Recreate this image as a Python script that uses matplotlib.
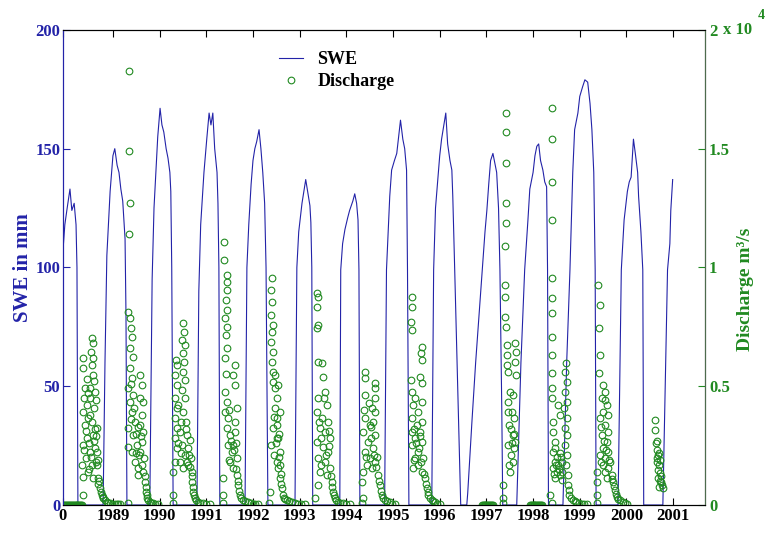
import matplotlib
matplotlib.use('Agg')
import numpy as np
import matplotlib.pyplot as plt

plt.rcParams['font.family'] = ['Liberation Serif', 'DejaVu Serif']
plt.rcParams['font.weight'] = 'bold'

# SWE (mm), one list per snow season (decimal year, mm)
swe_1988 = [(1987.93, 107), (1987.97, 118), (1988.02, 125), (1988.08, 133), (1988.12, 124),
            (1988.17, 127), (1988.21, 118), (1988.23, 100), (1988.25, 0)]
swe_1989 = [(1988.79, 0), (1988.83, 60), (1988.87, 105), (1988.94, 132), (1989.00, 147),
            (1989.04, 150), (1989.09, 143), (1989.13, 140), (1989.17, 133), (1989.21, 128),
            (1989.26, 112), (1989.28, 80), (1989.30, 0)]
swe_1990 = [(1989.79, 0), (1989.84, 95), (1989.88, 125), (1989.92, 140), (1989.96, 155),
            (1990.01, 167), (1990.05, 160), (1990.09, 157), (1990.14, 150), (1990.18, 146),
            (1990.22, 140), (1990.24, 132), (1990.26, 100), (1990.29, 0)]
swe_1991 = [(1990.80, 0), (1990.84, 90), (1990.88, 118), (1990.95, 140), (1991.01, 154),
            (1991.06, 165), (1991.10, 160), (1991.14, 165), (1991.18, 150), (1991.23, 140),
            (1991.25, 127), (1991.27, 100), (1991.29, 0)]
swe_1992 = [(1991.83, 0), (1991.87, 100), (1991.91, 118), (1991.96, 135), (1992.00, 145),
            (1992.04, 150), (1992.08, 153), (1992.13, 158), (1992.17, 150), (1992.21, 140),
            (1992.25, 127), (1992.28, 100), (1992.32, 0)]
swe_1993 = [(1992.90, 0), (1992.94, 100), (1992.98, 115), (1993.05, 127), (1993.09, 132),
            (1993.13, 137), (1993.18, 131), (1993.22, 126), (1993.24, 119), (1993.26, 100),
            (1993.28, 0)]
swe_1994 = [(1993.86, 0), (1993.88, 99), (1993.92, 110), (1993.97, 116), (1994.03, 121),
            (1994.07, 124), (1994.14, 128), (1994.18, 131), (1994.22, 127), (1994.25, 120),
            (1994.27, 99), (1994.29, 0)]
swe_1995 = [(1994.82, 0), (1994.86, 99), (1994.93, 130), (1994.97, 141), (1995.03, 145),
            (1995.08, 148), (1995.12, 155), (1995.16, 162), (1995.21, 154), (1995.25, 150),
            (1995.29, 141), (1995.31, 99), (1995.34, 0)]
swe_1996 = [(1995.83, 0), (1995.87, 99), (1995.91, 125), (1995.96, 137), (1996.00, 147),
            (1996.04, 154), (1996.09, 160), (1996.13, 165), (1996.17, 152), (1996.22, 145),
            (1996.26, 141), (1996.28, 130), (1996.32, 100), (1996.45, 0)]
swe_1997 = [(1996.58, 0), (1996.60, 5), (1996.69, 35), (1996.77, 60), (1996.86, 85),
            (1996.92, 102), (1996.97, 115), (1997.01, 124), (1997.05, 135), (1997.09, 145),
            (1997.14, 148), (1997.18, 144), (1997.22, 140), (1997.26, 125), (1997.29, 99),
            (1997.33, 40), (1997.35, 0)]
swe_1998 = [(1997.65, 0), (1997.74, 60), (1997.82, 99), (1997.89, 120), (1997.93, 133),
            (1998.00, 140), (1998.04, 147), (1998.08, 151), (1998.12, 152), (1998.16, 145),
            (1998.21, 141), (1998.25, 136), (1998.29, 134), (1998.31, 99), (1998.33, 0)]
swe_1999 = [(1998.64, 0), (1998.72, 60), (1998.79, 99), (1998.85, 140), (1998.89, 158),
            (1998.96, 165), (1999.00, 172), (1999.06, 176), (1999.11, 179), (1999.17, 178),
            (1999.22, 169), (1999.26, 158), (1999.30, 140), (1999.33, 99), (1999.35, 0)]
swe_2000 = [(1999.82, 0), (1999.89, 99), (1999.95, 120), (2000.02, 132), (2000.06, 136),
            (2000.10, 138), (2000.13, 148), (2000.15, 154), (2000.19, 148), (2000.24, 140),
            (2000.26, 130), (2000.31, 115), (2000.35, 99), (2000.37, 0)]
swe_2001 = [(2000.78, 0), (2000.84, 60), (2000.88, 99), (2000.93, 110), (2000.95, 124),
            (2000.99, 137)]

# Discharge (m3/s), one list per melt season (decimal year, m3/s)
q_1988 = [(1987.94, 0), (1987.96, 0), (1987.98, 0), (1988.00, 0), (1988.02, 0), (1988.04, 0),
          (1988.06, 0), (1988.08, 0), (1988.10, 0), (1988.12, 0), (1988.14, 0), (1988.16, 0),
          (1988.18, 0), (1988.20, 0), (1988.22, 0), (1988.24, 0), (1988.26, 0), (1988.28, 0),
          (1988.30, 0), (1988.32, 0), (1988.34, 0),
          (1988.36, 420), (1988.36, 1180), (1988.36, 6190), (1988.36, 5770),
          (1988.40, 4930), (1988.44, 4210), (1988.36, 3920), (1988.51, 4500), (1988.46, 3660),
          (1988.40, 3370), (1988.55, 3490), (1988.44, 2820), (1988.57, 2950), (1988.36, 2530),
          (1988.51, 2230), (1988.61, 2400), (1988.42, 1980), (1988.55, 1680), (1988.64, 1810),
          (1988.46, 1390), (1988.34, 1680), (1988.57, 1140),
          (1988.55, 7030), (1988.57, 6820), (1988.53, 6440), (1988.57, 6190), (1988.55, 5890),
          (1988.57, 5470), (1988.51, 4930), (1988.61, 4760), (1988.59, 4080), (1988.66, 3240),
          (1988.38, 4500), (1988.42, 3100), (1988.48, 2600), (1988.50, 3800), (1988.53, 2000),
          (1988.59, 2700), (1988.62, 3200), (1988.47, 4700), (1988.49, 1500), (1988.60, 5200),
          (1988.39, 2300), (1988.45, 5300), (1988.63, 4400), (1988.64, 2900),
          (1988.66, 2230), (1988.66, 1680), (1988.67, 1900), (1988.68, 1140), (1988.69, 900),
          (1988.70, 1000), (1988.72, 720), (1988.74, 560), (1988.76, 420), (1988.78, 350),
          (1988.79, 290), (1988.82, 200), (1988.87, 130), (1988.90, 100), (1988.94, 80),
          (1988.98, 60), (1989.04, 40), (1989.08, 30), (1989.11, 30), (1989.15, 40)]
q_1989 = [(1989.34, 18270), (1989.34, 14900), (1989.36, 12710), (1989.34, 11410),
          (1989.32, 8130), (1989.36, 7870), (1989.39, 7450), (1989.41, 7070), (1989.36, 6610),
          (1989.43, 6230), (1989.36, 5770), (1989.41, 5350), (1989.32, 4930), (1989.43, 4630),
          (1989.36, 4340), (1989.41, 3920), (1989.47, 3490), (1989.32, 3240), (1989.43, 2950),
          (1989.51, 2530), (1989.41, 2230), (1989.47, 1810), (1989.54, 1560), (1989.32, 2440),
          (1989.58, 5470), (1989.62, 5050), (1989.58, 4500), (1989.64, 4340), (1989.62, 3790),
          (1989.58, 3370), (1989.64, 3070), (1989.62, 2650), (1989.58, 2230), (1989.66, 1980),
          (1989.62, 1680), (1989.64, 1390), (1989.54, 1260),
          (1989.38, 3600), (1989.45, 4100), (1989.50, 3000), (1989.55, 2100), (1989.60, 2900),
          (1989.39, 5100), (1989.49, 2200), (1989.53, 3300),
          (1989.68, 1200), (1989.69, 970), (1989.70, 750), (1989.71, 550), (1989.72, 400),
          (1989.73, 290), (1989.76, 200), (1989.79, 130), (1989.82, 100), (1989.86, 80),
          (1989.90, 60), (1989.96, 40), (1989.32, 80)]
q_1990 = [(1990.35, 6100), (1990.37, 5890), (1990.32, 5470), (1990.37, 5050), (1990.32, 4500),
          (1990.37, 4080), (1990.32, 3660), (1990.37, 3240), (1990.32, 2820), (1990.37, 2400),
          (1990.32, 1810), (1990.28, 1390), (1990.28, 420), (1990.28, 80),
          (1990.50, 7660), (1990.52, 7280), (1990.48, 6950), (1990.54, 6740), (1990.50, 6400),
          (1990.52, 6020), (1990.50, 5600), (1990.54, 5260), (1990.48, 4840), (1990.54, 4500),
          (1990.50, 3920), (1990.56, 3490),
          (1990.43, 3070), (1990.58, 2950), (1990.65, 2740), (1990.48, 2530), (1990.61, 2400),
          (1990.54, 2100), (1990.67, 1980), (1990.43, 1810), (1990.61, 1680), (1990.50, 1560),
          (1990.69, 1390), (1990.40, 4200), (1990.45, 3500), (1990.46, 2200), (1990.57, 3200),
          (1990.63, 2100), (1990.40, 2600), (1990.59, 1800), (1990.66, 1600),
          (1990.69, 970), (1990.70, 1200), (1990.71, 550), (1990.72, 750), (1990.74, 420),
          (1990.76, 290), (1990.79, 200), (1990.82, 130), (1990.87, 100), (1990.93, 80),
          (1991.00, 60), (1991.08, 40)]
q_1991 = [(1991.44, 9680), (1991.44, 9390), (1991.44, 9050), (1991.42, 8630), (1991.44, 8210),
          (1991.40, 7870), (1991.44, 7490), (1991.42, 7160), (1991.44, 6610), (1991.40, 6190),
          (1991.61, 5890), (1991.57, 5470), (1991.61, 5050), (1991.38, 11070), (1991.38, 10310),
          (1991.40, 4760), (1991.44, 4340), (1991.40, 3920), (1991.46, 3660), (1991.44, 3240),
          (1991.51, 2950), (1991.46, 2530), (1991.55, 2230), (1991.51, 1810), (1991.57, 1560),
          (1991.61, 3490), (1991.66, 4080), (1991.61, 3070), (1991.57, 2530), (1991.66, 1980),
          (1991.36, 1140), (1991.36, 420), (1991.36, 80),
          (1991.48, 4000), (1991.53, 2700), (1991.59, 2300), (1991.49, 1900), (1991.63, 2600),
          (1991.64, 1500), (1991.42, 5500),
          (1991.66, 1260), (1991.67, 1000), (1991.68, 840), (1991.70, 600), (1991.72, 420),
          (1991.75, 300), (1991.78, 210), (1991.83, 150), (1991.89, 130), (1991.95, 80),
          (1992.00, 40), (1992.05, 40), (1992.11, 40)]
q_1992 = [(1992.40, 9560), (1992.38, 9050), (1992.40, 8550), (1992.38, 8000), (1992.42, 7580),
          (1992.40, 7280), (1992.38, 6860), (1992.42, 6440), (1992.40, 6020), (1992.42, 5600),
          (1992.42, 5180), (1992.47, 4930), (1992.51, 4500), (1992.47, 4080), (1992.51, 3660),
          (1992.42, 3240), (1992.51, 2820), (1992.38, 2530), (1992.36, 550), (1992.34, 80),
          (1992.47, 5470), (1992.53, 5050), (1992.57, 3920), (1992.51, 3370), (1992.53, 2820),
          (1992.57, 2230), (1992.51, 1810), (1992.53, 1560),
          (1992.45, 3700), (1992.49, 2600), (1992.55, 2000), (1992.44, 2100), (1992.55, 3000),
          (1992.58, 1700),
          (1992.57, 1140), (1992.59, 900), (1992.60, 1300), (1992.62, 720), (1992.64, 420),
          (1992.66, 300), (1992.69, 250), (1992.73, 210), (1992.78, 150), (1992.83, 130),
          (1992.90, 80), (1992.96, 40), (1993.03, 40), (1993.11, 40)]
q_1993 = [(1993.37, 8930), (1993.39, 8760), (1993.37, 8340), (1993.39, 7580), (1993.37, 7450),
          (1993.39, 6020), (1993.48, 5980), (1993.50, 5390), (1993.54, 4760), (1993.52, 4500),
          (1993.39, 4500), (1993.58, 4210), (1993.37, 3920), (1993.48, 3660), (1993.60, 3490),
          (1993.43, 3240), (1993.54, 3070), (1993.65, 2820), (1993.37, 2650), (1993.50, 2440),
          (1993.60, 2230), (1993.39, 1980), (1993.54, 1810), (1993.65, 1560), (1993.43, 1390),
          (1993.58, 1260), (1993.39, 840), (1993.33, 290),
          (1993.45, 2800), (1993.56, 2100), (1993.62, 2500), (1993.41, 3500), (1993.46, 1700),
          (1993.63, 3100),
          (1993.67, 1200), (1993.69, 970), (1993.70, 750), (1993.71, 550), (1993.73, 400),
          (1993.75, 290), (1993.78, 200), (1993.82, 130), (1993.87, 100), (1993.92, 80),
          (1994.00, 60), (1994.07, 40)]
q_1994 = [(1994.40, 5600), (1994.40, 5350), (1994.61, 5140), (1994.61, 4930), (1994.40, 4630),
          (1994.61, 4500), (1994.55, 4080), (1994.40, 3660), (1994.61, 3920), (1994.57, 3490),
          (1994.50, 3370), (1994.35, 3070), (1994.61, 2950), (1994.46, 2650), (1994.57, 2400),
          (1994.40, 2230), (1994.50, 1980), (1994.61, 1810), (1994.44, 1680), (1994.55, 1560),
          (1994.35, 1390), (1994.65, 2020), (1994.33, 970), (1994.35, 290), (1994.33, 80),
          (1994.48, 4300), (1994.53, 2800), (1994.59, 2100), (1994.42, 2000), (1994.52, 3300),
          (1994.63, 1600), (1994.38, 4000),
          (1994.67, 1260), (1994.69, 1000), (1994.72, 840), (1994.74, 600), (1994.76, 420),
          (1994.79, 300), (1994.82, 210), (1994.87, 150), (1994.93, 130), (1994.98, 60),
          (1995.04, 40)]
q_1995 = [(1995.40, 8760), (1995.40, 8340), (1995.38, 7700), (1995.40, 7370), (1995.38, 5260),
          (1995.62, 6650), (1995.59, 6400), (1995.62, 6100), (1995.57, 5390), (1995.62, 5140),
          (1995.40, 4760), (1995.47, 4500), (1995.62, 4340), (1995.42, 4210), (1995.53, 3920),
          (1995.40, 3660), (1995.51, 3370), (1995.62, 3490), (1995.40, 3070), (1995.57, 3070),
          (1995.47, 2820), (1995.62, 2650), (1995.40, 2530), (1995.53, 2230), (1995.47, 1980),
          (1995.64, 1980), (1995.53, 1680), (1995.42, 1560), (1995.62, 1390),
          (1995.45, 3200), (1995.49, 2600), (1995.55, 2400), (1995.60, 1800), (1995.44, 1900),
          (1995.58, 2900),
          (1995.66, 1300), (1995.68, 1140), (1995.70, 900), (1995.72, 720), (1995.74, 550),
          (1995.75, 420), (1995.79, 300), (1995.83, 210), (1995.86, 150), (1995.90, 130),
          (1995.95, 60), (1996.00, 40)]
q_1997 = [(1996.90, 0), (1996.92, 0), (1996.94, 0), (1996.96, 0), (1996.98, 0), (1997.00, 0),
          (1997.02, 0), (1997.04, 0), (1997.06, 0), (1997.08, 0), (1997.10, 0), (1997.12, 0),
          (1997.14, 0),
          (1997.35, 840), (1997.35, 290), (1997.35, 80),
          (1997.42, 16500), (1997.42, 15700), (1997.42, 14400), (1997.42, 12700),
          (1997.42, 11870), (1997.39, 10900),
          (1997.39, 9260), (1997.39, 8760), (1997.39, 7910), (1997.42, 7490), (1997.44, 6740),
          (1997.44, 6320), (1997.44, 5890), (1997.46, 5600), (1997.61, 6820), (1997.63, 6440),
          (1997.61, 6020), (1997.63, 5470), (1997.50, 4760), (1997.57, 4630), (1997.46, 4340),
          (1997.54, 3920), (1997.59, 3660), (1997.48, 3370), (1997.57, 2950), (1997.61, 2650),
          (1997.46, 2530), (1997.52, 2100), (1997.59, 2400), (1997.48, 1680), (1997.50, 1390),
          (1997.53, 3200), (1997.56, 1800), (1997.60, 3000), (1997.47, 3900), (1997.55, 2600)]
q_1998 = [(1997.93, 0), (1997.95, 0), (1997.97, 0), (1997.99, 0), (1998.01, 0), (1998.03, 0),
          (1998.05, 0), (1998.07, 0), (1998.09, 0), (1998.11, 0), (1998.13, 0), (1998.15, 0),
          (1998.17, 0), (1998.19, 0),
          (1998.36, 420), (1998.40, 80),
          (1998.40, 16700), (1998.40, 15400), (1998.40, 13600), (1998.40, 12000),
          (1998.40, 9560), (1998.40, 8710), (1998.40, 8080), (1998.40, 7070), (1998.40, 6320),
          (1998.40, 5560), (1998.40, 4930), (1998.40, 4500),
          (1998.42, 2230), (1998.51, 2020), (1998.57, 2190), (1998.46, 1810), (1998.53, 1680),
          (1998.61, 1810), (1998.42, 1560), (1998.51, 1390), (1998.57, 1260), (1998.46, 1140),
          (1998.61, 1050), (1998.42, 3070), (1998.46, 2650), (1998.42, 3490), (1998.53, 4210),
          (1998.57, 3790), (1998.48, 2400), (1998.55, 1500), (1998.59, 2000), (1998.44, 1300),
          (1998.63, 1400), (1998.49, 1700),
          (1998.70, 5980), (1998.68, 5600), (1998.72, 5180), (1998.68, 4760), (1998.72, 4340),
          (1998.66, 4080), (1998.72, 3660), (1998.68, 3240), (1998.72, 2950), (1998.68, 2530),
          (1998.72, 2100), (1998.70, 1680), (1998.74, 1260),
          (1998.74, 840), (1998.76, 650), (1998.78, 420), (1998.81, 300), (1998.85, 210),
          (1998.89, 160), (1998.93, 130), (1998.98, 80), (1999.04, 40), (1999.10, 40),
          (1999.15, 40)]
q_1999 = [(1999.36, 420), (1999.36, 80), (1999.36, 970), (1999.36, 1390),
          (1999.39, 9260), (1999.43, 8420), (1999.41, 7450), (1999.43, 6320), (1999.41, 5560),
          (1999.49, 5050), (1999.53, 4760), (1999.47, 4500), (1999.58, 4210), (1999.49, 3920),
          (1999.60, 3790), (1999.43, 3660), (1999.53, 3370), (1999.60, 3070), (1999.47, 2950),
          (1999.58, 2650), (1999.49, 2400), (1999.60, 2230), (1999.43, 2100), (1999.53, 1980),
          (1999.64, 1810), (1999.49, 1680), (1999.60, 1560), (1999.53, 1390), (1999.68, 1260),
          (1999.58, 1140), (1999.45, 3300), (1999.51, 2700), (1999.56, 2300), (1999.62, 1900),
          (1999.55, 4400), (1999.46, 1800),
          (1999.70, 1100), (1999.71, 970), (1999.73, 800), (1999.75, 630), (1999.77, 450),
          (1999.79, 340), (1999.82, 250), (1999.86, 210), (1999.92, 130), (1999.96, 80),
          (2000.01, 40)]
q_2000 = [(2000.61, 3580), (2000.61, 3160), (2000.63, 2610), (2000.65, 2320), (2000.67, 2100),
          (2000.65, 1810), (2000.69, 1680), (2000.67, 1470), (2000.71, 1350), (2000.67, 1140),
          (2000.74, 970), (2000.76, 840), (2000.69, 760), (2000.78, 720), (2000.65, 1980),
          (2000.71, 1890), (2000.70, 2200), (2000.73, 1200), (2000.66, 2700), (2000.72, 1000)]

year_ticks = [1989, 1990, 1991, 1992, 1993, 1994, 1995, 1996, 1997, 1998, 1999, 2000, 2001]
q_ticks = [0, 5000, 10000, 15000, 20000]
q_tick_labels = ['0', '0.5', '1', '1.5', '2']
swe_ticks = [0, 50, 100, 150, 200]

swe = np.array(swe_1988 + swe_1989 + swe_1990 + swe_1991 + swe_1992 + swe_1993 + swe_1994
               + swe_1995 + swe_1996 + swe_1997 + swe_1998 + swe_1999 + swe_2000 + swe_2001)
q = np.array(q_1988 + q_1989 + q_1990 + q_1991 + q_1992 + q_1993 + q_1994 + q_1995
             + q_1997 + q_1998 + q_1999 + q_2000)

blue = '#2323a8'
green = '#218a21'
x0, x1 = 1987.93, 2001.68

fig = plt.figure(figsize=(7.66, 5.35), dpi=100)
ax = fig.add_axes([0.0822, 0.0561, 0.838, 0.888])
ax2 = ax.twinx()

l1, = ax.plot(swe[:, 0], swe[:, 1], color=blue, lw=0.8)
l2, = ax2.plot(q[:, 0], q[:, 1], 'o', mfc='none', mec=green, ms=4.8, mew=0.8, ls='none')

ax.set_xlim(x0, x1)
ax.set_ylim(0, 200)
ax2.set_ylim(0, 20000)

ax.set_xticks([x0] + year_ticks)
ax.set_xticklabels(['0'] + [str(y) for y in year_ticks])
ax.set_yticks(swe_ticks)
ax2.set_yticks(q_ticks)
ax2.set_yticklabels(q_tick_labels)

ax.tick_params(axis='x', direction='in', top=True, length=5, labelsize=12, pad=2)
ax.tick_params(axis='y', direction='in', length=5, colors=blue, labelsize=12, pad=2)
ax2.tick_params(axis='y', direction='in', length=5, colors=green, labelsize=12, pad=3)
for t in ax.get_xticklabels() + ax.get_yticklabels() + ax2.get_yticklabels():
    t.set_fontweight('bold')

ax.spines['left'].set_color(blue)
ax2.spines['left'].set_color(blue)
ax2.spines['right'].set_color('#4d6b4d')

ax.set_ylabel('SWE in mm', color=blue, fontsize=15, fontweight='bold')
ax.yaxis.set_label_coords(-0.047, 0.5)
ax2.set_ylabel('Discharge m³/s', color=green, fontsize=14, fontweight='bold')
ax2.yaxis.set_label_coords(1.05, 0.455)

ax2.text(1.028, 1.0, 'x 10', transform=ax2.transAxes, color=green, fontsize=12,
         fontweight='bold', va='center', ha='left')
ax2.text(1.083, 1.03, '4', transform=ax2.transAxes, color=green, fontsize=10,
         fontweight='bold', va='center', ha='left')

leg = ax2.legend([l1, l2], ['SWE', 'Discharge'], loc='upper left',
                 bbox_to_anchor=(0.312, 0.99), frameon=False, fontsize=13,
                 handlelength=1.3, handletextpad=0.8, labelspacing=0.3)
for t in leg.get_texts():
    t.set_fontweight('bold')

fig.savefig('out.png', dpi=100)
